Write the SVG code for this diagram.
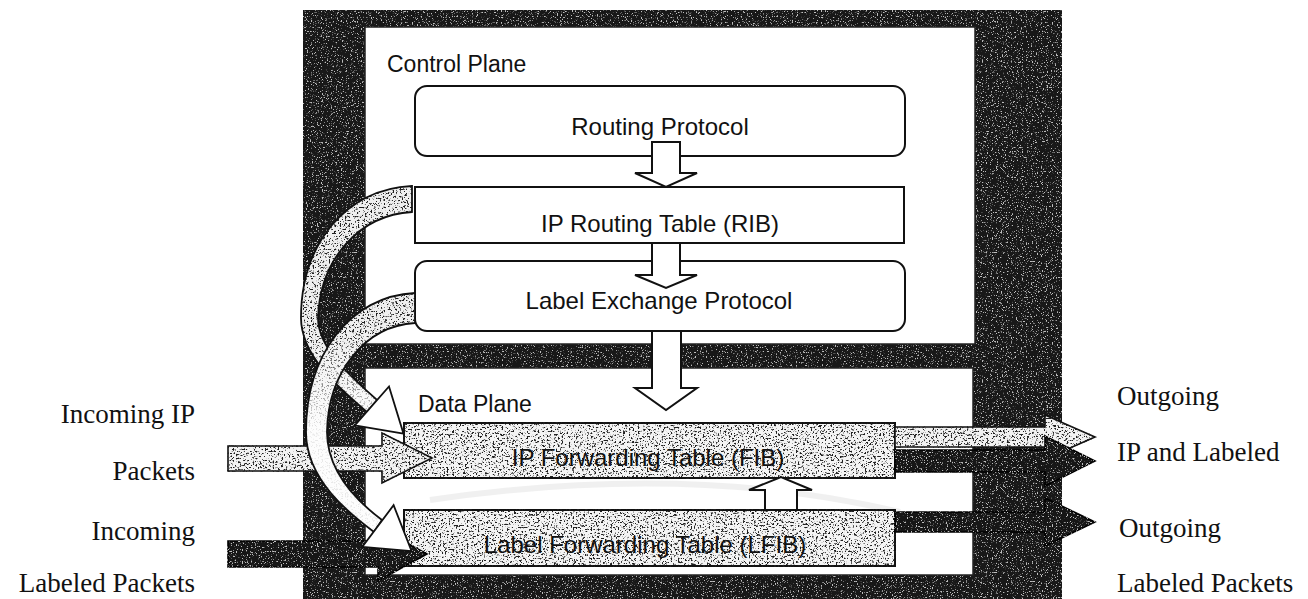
<svg xmlns="http://www.w3.org/2000/svg" width="1308" height="599" viewBox="0 0 1308 599">
<defs>
<filter id="darkTex" filterUnits="userSpaceOnUse" x="0" y="0" width="1308" height="599" color-interpolation-filters="sRGB">
<feTurbulence type="fractalNoise" baseFrequency="0.8" numOctaves="3" seed="4" result="n"/>
<feColorMatrix in="n" type="matrix" values="0 0 0 0 0.75 0 0 0 0 0.75 0 0 0 0 0.75 8 0 0 0 -4.75" result="dots"/>
<feComposite in="dots" in2="SourceAlpha" operator="in" result="d"/>
<feMerge><feMergeNode in="SourceGraphic"/><feMergeNode in="d"/></feMerge>
</filter>
<filter id="lightTex" filterUnits="userSpaceOnUse" x="0" y="0" width="1308" height="599" color-interpolation-filters="sRGB">
<feTurbulence type="fractalNoise" baseFrequency="0.55" numOctaves="3" seed="11" result="n"/>
<feColorMatrix in="n" type="matrix" values="0 0 0 0 0.12 0 0 0 0 0.12 0 0 0 0 0.12 8 0 0 0 -4.45" result="dots"/>
<feComposite in="dots" in2="SourceAlpha" operator="in" result="d"/>
<feMerge><feMergeNode in="SourceGraphic"/><feMergeNode in="d"/></feMerge>
</filter>
<linearGradient id="fadeWhite" gradientUnits="userSpaceOnUse" x1="0" y1="330" x2="0" y2="430">
<stop offset="0" stop-color="#fff" stop-opacity="0"/>
<stop offset="1" stop-color="#fff" stop-opacity="0.9"/>
</linearGradient>
<path id="curveA" d="M412 186 C345 189 301 245 301 318 C301 358 344 392 367 412 L377 400 C355 380 318 350 318 318 C320 258 360 215 412 212 Z"/>
<path id="curveB" d="M415 293 C350 296 306 355 306 432 C306 480 350 514 374 532 L382 520 C358 502 327 472 327 432 C328 372 365 326 415 323 Z"/>
<style>
.plane{fill:#fff;stroke:#222;stroke-width:1.5}
.box{fill:#fff;stroke:#111;stroke-width:2}
.tbox{fill:#f4f4f4;stroke:#111;stroke-width:2}
.lbl{font-family:"Liberation Sans",Arial,sans-serif;font-size:24px;fill:#111}
.title{font-family:"Liberation Sans",Arial,sans-serif;font-size:23px;fill:#111}
.side{font-family:"Liberation Serif","Times New Roman",serif;font-size:27px;fill:#111}
.hollow{fill:#fff;stroke:#111;stroke-width:2;stroke-linejoin:miter}
.lt{fill:#f2f2f2;stroke:#111;stroke-width:1.6;stroke-linejoin:miter}
.dk{fill:#161616;stroke:#000;stroke-width:1.6;stroke-linejoin:miter}
.tex{fill:#efefef;stroke:none}
.fade{fill:url(#fadeWhite);stroke:none}
.edge{fill:none;stroke:#111;stroke-width:1.8}
.head{fill:#fff;stroke:#111;stroke-width:1.8;stroke-linejoin:miter}
.wm{fill:none;stroke:#d4d4d4;stroke-width:6;opacity:0.35}
</style>
</defs>

<g id="frame" filter="url(#darkTex)">
<rect x="303" y="10" width="759" height="589" fill="#181818"/>
</g>

<g id="control-plane">
<rect class="plane" x="365" y="27" width="610" height="317"/>
<text class="title" x="387" y="72">Control Plane</text>
</g>

<g id="data-plane">
<rect class="plane" x="365" y="368" width="608" height="207"/>
<text class="title" x="418" y="412">Data Plane</text>
</g>

<g id="watermark">
<path class="wm" d="M430 500 Q690 462 900 512"/>
</g>

<g id="routing-protocol">
<rect class="box" x="415" y="86" width="490" height="70" rx="12"/>
<text class="lbl" x="660" y="135" text-anchor="middle">Routing Protocol</text>
</g>

<g id="rib">
<rect class="box" x="415" y="187" width="489" height="56"/>
<text class="lbl" x="660" y="232" text-anchor="middle">IP Routing Table (RIB)</text>
</g>

<g id="lep">
<rect class="box" x="415" y="261" width="490" height="70" rx="12"/>
<text class="lbl" x="659" y="309" text-anchor="middle">Label Exchange Protocol</text>
</g>

<g id="fib">
<rect class="tbox" x="404" y="423" width="491" height="55" filter="url(#lightTex)"/>
<text class="lbl" x="648" y="466" text-anchor="middle">IP Forwarding Table (FIB)</text>
</g>

<g id="lfib">
<rect class="tbox" x="404" y="510" width="491" height="56" filter="url(#lightTex)"/>
<text class="lbl" x="645" y="553" text-anchor="middle">Label Forwarding Table (LFIB)</text>
</g>

<g id="connectors">
<polygon class="hollow" points="652,142 680,142 680,173 697,173 666,187 635,173 652,173"/>
<polygon class="hollow" points="652,243 680,243 680,275 697,275 666,288 635,275 652,275"/>
<polygon class="hollow" points="652,331 681,331 681,388 697,388 666,410 635,388 652,388"/>
<polygon class="hollow" points="765,510 797,510 797,490 812,490 781,477 749,490 765,490"/>

<g filter="url(#lightTex)">
<polygon class="lt" points="228,446 382,446 382,433 432,458 382,483 382,471 228,471"/>
<polygon class="lt" points="895,427 1045,427 1045,415 1095,437 1045,459 1045,447 895,447"/>
</g>
<g filter="url(#darkTex)">
<polygon class="dk" points="228,541 378,541 378,527 427,554 378,581 378,567 228,567"/>
<polygon class="dk" points="895,450 1045,450 1045,436 1095,461 1045,486 1045,472 895,472"/>
<polygon class="dk" points="895,512 1045,512 1045,498 1095,522 1045,546 1045,532 895,532"/>
</g>

<g id="curve-rib-fib">
<use href="#curveA" class="tex" filter="url(#lightTex)"/>
<use href="#curveA" class="fade"/>
<use href="#curveA" class="edge"/>
<polygon class="head" points="389,386.5 403.5,433.7 354.8,425.5"/>
</g>
<g id="curve-lep-lfib">
<use href="#curveB" class="tex" filter="url(#lightTex)"/>
<use href="#curveB" class="fade"/>
<use href="#curveB" class="edge"/>
<polygon class="head" points="393.6,505.2 411.6,551.2 362.4,546.8"/>
</g>
</g>

<g id="labels">
<text class="side" x="195" y="423" text-anchor="end">Incoming IP</text>
<text class="side" x="195" y="480" text-anchor="end">Packets</text>
<text class="side" x="195" y="540" text-anchor="end">Incoming</text>
<text class="side" x="195" y="592" text-anchor="end">Labeled Packets</text>
<text class="side" x="1117" y="405">Outgoing</text>
<text class="side" x="1117" y="461">IP and Labeled</text>
<text class="side" x="1119" y="537">Outgoing</text>
<text class="side" x="1117" y="592">Labeled Packets</text>
</g>
</svg>
